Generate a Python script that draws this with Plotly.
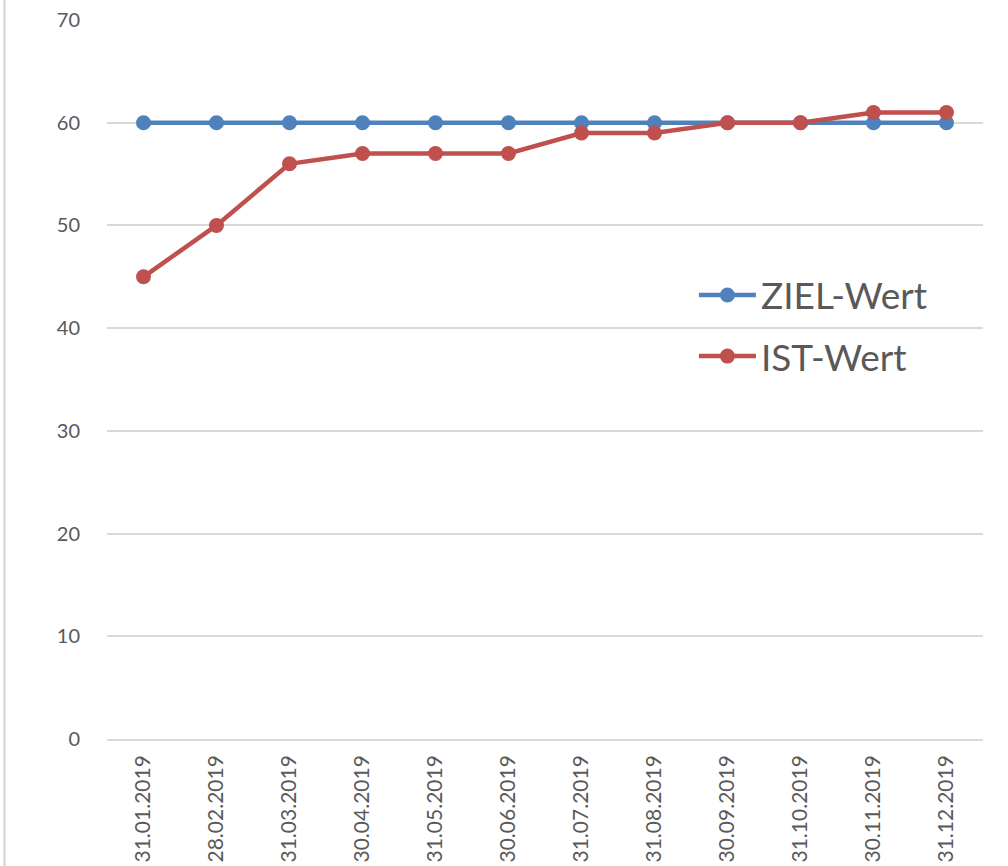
import plotly.graph_objects as go

dates = ["31.01.2019", "28.02.2019", "31.03.2019", "30.04.2019", "31.05.2019", "30.06.2019",
         "31.07.2019", "31.08.2019", "30.09.2019", "31.10.2019", "30.11.2019", "31.12.2019"]
ziel_wert = [60, 60, 60, 60, 60, 60, 60, 60, 60, 60, 60, 60]
ist_wert = [45, 50, 56, 57, 57, 57, 59, 59, 60, 60, 61, 61]

font_family = "Lato, Open Sans, sans-serif"
grid = "#d9d9d9"
text_col = "#595959"

fig = go.Figure()
fig.add_trace(go.Scatter(x=dates, y=ziel_wert, name="ZIEL-Wert", mode="lines+markers",
                         line=dict(color="#4f81bd", width=4.5),
                         marker=dict(size=15, color="#4f81bd"),
                         legendgroup="a"))
fig.add_trace(go.Scatter(x=dates, y=ist_wert, name="IST-Wert", mode="lines+markers",
                         line=dict(color="#c0504d", width=4.5),
                         marker=dict(size=15, color="#c0504d"),
                         legendgroup="b"))

fig.update_layout(
    width=1008, height=866,
    margin=dict(l=107, r=25, t=20, b=127),
    paper_bgcolor="white", plot_bgcolor="white",
    font=dict(family=font_family, color=text_col),
    showlegend=True,
    legend=dict(x=0.67, y=0.66, xanchor="left", yanchor="top",
                font=dict(size=37, color=text_col),
                bgcolor="rgba(0,0,0,0)", itemwidth=57,
                traceorder="grouped", tracegroupgap=10),
    xaxis=dict(type="category", range=[-0.5, len(dates) - 0.5],
               showgrid=False, showline=True, linecolor=grid, linewidth=1.5,
               tickangle=-90, tickfont=dict(size=21, color=text_col), automargin=False,
               ticks="outside", ticklen=6, tickcolor="rgba(0,0,0,0)"),
    yaxis=dict(range=[0, 70], dtick=10, showgrid=True, gridcolor=grid, gridwidth=1.5,
               zeroline=False, tickfont=dict(size=20, color=text_col), automargin=False,
               ticks="outside", ticklen=22, tickcolor="rgba(0,0,0,0)"),
    shapes=[dict(type="line", xref="paper", yref="paper",
                 x0=-0.117, x1=-0.117, y0=-0.2, y1=1.05,
                 line=dict(color=grid, width=2.5))],
)

fig.write_html("out.html", config={"displayModeBar": False},
               post_script="document.body.style.margin='0';")
